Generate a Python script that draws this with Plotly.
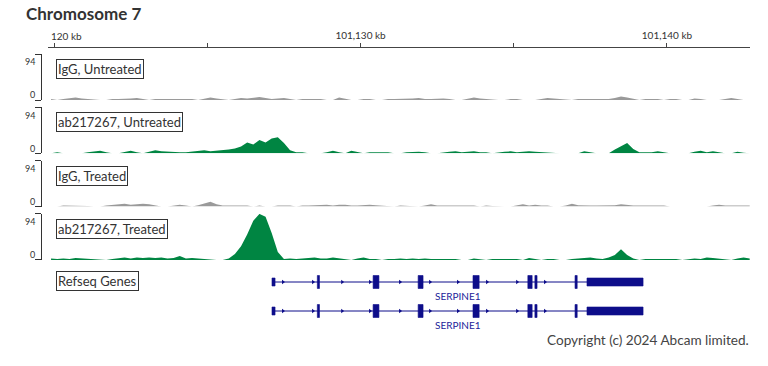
import plotly.graph_objects as go

# ---------------- data ----------------
BIN_START_KB = 101119.8   # left edge of first coverage bin (kb)
BIN_KB = 0.2              # bin width (kb)

igg_untreated = [2, 0, 2, 3, 5, 3, 2, 0, 0, 0, 2, 2, 2, 3, 4, 2, 0, 2, 2, 3,
                 2, 2, 3, 2, 0, 3, 5, 3, 2, 0, 2, 4, 3, 4, 6, 4, 2, 3, 4, 2,
                 0, 2, 2, 3, 2, 0, 0, 5, 3, 0, 0, 2, 2, 0, 0, 2, 2, 2, 3, 3,
                 4, 2, 2, 3, 3, 2, 0, 0, 2, 5, 3, 2, 0, 0, 0, 2, 2, 0, 0, 0,
                 2, 4, 3, 2, 0, 0, 2, 2, 2, 2, 3, 2, 4, 7, 5, 3, 0, 2, 2, 2,
                 0, 2, 2, 0, 0, 3, 2, 0, 0, 0, 2, 4, 2, 0, 0]

ab_untreated = [0, 2, 0, 0, 0, 0, 2, 3, 5, 2, 0, 0, 3, 5, 2, 0, 3, 6, 4, 3,
                3, 2, 2, 3, 4, 6, 4, 5, 6, 8, 10, 14, 22, 18, 27, 22, 30, 33, 21, 6,
                2, 2, 0, 0, 0, 2, 5, 2, 0, 5, 2, 0, 2, 2, 3, 2, 0, 0, 2, 3,
                3, 2, 0, 0, 2, 3, 4, 2, 3, 4, 2, 2, 0, 2, 3, 4, 2, 3, 4, 3,
                2, 2, 0, 0, 0, 0, 0, 4, 2, 0, 0, 0, 8, 14, 21, 9, 2, 2, 2, 4,
                2, 0, 0, 0, 0, 3, 5, 2, 4, 2, 0, 0, 3, 1, 0]

igg_treated = [0, 0, 2, 2, 2, 2, 1, 0, 0, 2, 3, 5, 6, 4, 5, 6, 5, 2, 0, 0,
               2, 4, 2, 0, 3, 6, 10, 5, 2, 2, 2, 2, 2, 0, 2, 0, 0, 2, 2, 2,
               0, 2, 2, 3, 4, 4, 2, 4, 4, 2, 2, 3, 4, 3, 2, 0, 0, 2, 1, 0,
               0, 2, 5, 2, 2, 2, 2, 2, 2, 2, 0, 2, 1, 0, 0, 0, 2, 5, 2, 4,
               2, 2, 0, 0, 2, 6, 3, 2, 2, 2, 2, 2, 3, 5, 3, 2, 2, 2, 2, 2,
               2, 0, 0, 0, 0, 0, 0, 0, 2, 4, 2, 2, 2, 2, 2]

ab_treated = [3, 2, 3, 2, 4, 3, 2, 2, 0, 0, 2, 3, 5, 3, 5, 4, 5, 4, 5, 3,
              4, 8, 3, 4, 3, 2, 0, 0, 0, 3, 12, 28, 52, 80, 94, 88, 55, 16, 2, 3,
              2, 3, 4, 5, 3, 3, 5, 3, 2, 0, 3, 5, 2, 2, 0, 2, 2, 3, 2, 3,
              2, 3, 2, 2, 2, 2, 2, 0, 0, 3, 2, 0, 2, 2, 3, 2, 2, 0, 4, 2,
              0, 2, 2, 0, 0, 2, 3, 4, 5, 3, 2, 5, 10, 22, 10, 3, 0, 2, 2, 2,
              2, 3, 2, 0, 2, 3, 2, 5, 4, 3, 2, 0, 3, 5, 3]

track_names = ["IgG, Untreated", "ab217267, Untreated", "IgG, Treated", "ab217267, Treated"]
track_values = [igg_untreated, ab_untreated, igg_treated, ab_treated]
track_colors = ["#9a9a9a", "#008542", "#9a9a9a", "#008542"]
Y_MAX = 94

x_range_kb = [101119.80, 101142.71]
tick_kb = [101120, 101125, 101130, 101135, 101140]
tick_text = ["", "", "101,130 kb", "", "101,140 kb"]
first_tick_label = "120 kb"

gene_name = "SERPINE1"
transcript_rows = [0, 1]
gene_start_kb = 101127.11
gene_end_kb = 101139.22
exon_start_kb = [101127.11, 101128.59, 101130.41, 101131.88, 101133.67, 101135.46, 101135.69, 101137.00, 101137.39]
exon_end_kb = [101127.21, 101128.66, 101130.60, 101132.04, 101133.87, 101135.60, 101135.76, 101137.07, 101139.22]
exon_is_cds = [False, True, True, True, True, True, True, True, False]
chevron_kb = [101127.47, 101128.45, 101129.40, 101130.31, 101131.29, 101132.27,
              101133.18, 101134.13, 101135.11, 101136.02]

# ---------------- layout helpers ----------------
W, H = 768, 366
FONT = "Lato"
TEXT = "#333333"
GENE_COLOR = "#0d0d8a"


def px_x(px):
    return px / W


def px_y(py):
    return 1 - py / H


track_top = [54 + 53.3 * k for k in range(4)]
track_h = 46

fig = go.Figure()
layout = dict(
    width=W, height=H,
    margin=dict(l=0, r=0, t=0, b=0),
    paper_bgcolor="white", plot_bgcolor="white",
    showlegend=False, hovermode=False,
    font=dict(family=FONT, color=TEXT),
    xaxis=dict(
        domain=[px_x(48), px_x(750)], range=x_range_kb,
        anchor="free", position=px_y(46.5), side="top",
        showline=True, linecolor="#444", linewidth=1,
        ticks="outside", ticklen=4, tickcolor="#444",
        tickvals=tick_kb, ticktext=tick_text,
        tickfont=dict(family=FONT, size=10, color=TEXT),
        showgrid=False, zeroline=False, fixedrange=True,
    ),
)

annotations = []
shapes = []

n_bins = len(igg_untreated)
bin_centers = [BIN_START_KB + BIN_KB * (i + 0.5) for i in range(n_bins)]

for k, (name, vals, col) in enumerate(zip(track_names, track_values, track_colors)):
    yname = "y" if k == 0 else f"y{k + 1}"
    axkey = "yaxis" if k == 0 else f"yaxis{k + 1}"
    top = track_top[k]
    bottom = top + track_h
    layout[axkey] = dict(
        domain=[px_y(bottom), px_y(top)], range=[0, Y_MAX],
        anchor="free", position=px_x(41),
        showline=True, linecolor="#333", linewidth=1,
        ticks="outside", ticklen=6, tickcolor="#333",
        tickvals=[0, Y_MAX], showticklabels=False,
        showgrid=False, zeroline=False, fixedrange=True,
    )
    fig.add_trace(go.Scatter(
        x=bin_centers, y=vals, xaxis="x", yaxis=yname,
        mode="lines", line=dict(width=0, color=col),
        fill="tozeroy", fillcolor=col,
    ))
    annotations.append(dict(
        xref="paper", yref=yname, x=px_x(36.5), y=Y_MAX, yshift=-8,
        xanchor="right", yanchor="middle", showarrow=False,
        text=str(Y_MAX), font=dict(family=FONT, size=9, color=TEXT)))
    annotations.append(dict(
        xref="paper", yref=yname, x=px_x(36.5), y=0, yshift=5,
        xanchor="right", yanchor="middle", showarrow=False,
        text="0", font=dict(family=FONT, size=9, color=TEXT)))
    annotations.append(dict(
        xref="paper", yref="paper", x=px_x(56), y=px_y(top + 15),
        xanchor="left", yanchor="middle", showarrow=False,
        text=name, font=dict(family=FONT, size=13, color=TEXT),
        bordercolor="#333", borderwidth=1, borderpad=1, bgcolor="white"))

# first tick label (left-aligned at its tick)
annotations.append(dict(
    xref="x", yref="paper", x=tick_kb[0], y=px_y(35.5), xshift=-5,
    xanchor="left", yanchor="middle", showarrow=False,
    text=first_tick_label, font=dict(family=FONT, size=10, color=TEXT)))

# gene track axis: rows in units of transcript index
ROW_PX = 29
row0_px = 282
g_top, g_bot = 268, 332
layout["yaxis5"] = dict(
    domain=[px_y(g_bot), px_y(g_top)],
    range=[(g_bot - row0_px) / ROW_PX, (g_top - row0_px) / ROW_PX],
    anchor="free", position=0, visible=False, fixedrange=True,
)
CDS_HALF = 6.5 / ROW_PX
UTR_HALF = 4.0 / ROW_PX

for row in transcript_rows:
    shapes.append(dict(type="line", xref="x", yref="y5",
                       x0=gene_start_kb, x1=gene_end_kb, y0=row, y1=row,
                       line=dict(color=GENE_COLOR, width=1)))
    for s, e, cds in zip(exon_start_kb, exon_end_kb, exon_is_cds):
        h = CDS_HALF if cds else UTR_HALF
        shapes.append(dict(type="rect", xref="x", yref="y5",
                           x0=s, x1=e, y0=row - h, y1=row + h,
                           fillcolor=GENE_COLOR, line=dict(width=0.6, color=GENE_COLOR)))
    fig.add_trace(go.Scatter(
        x=chevron_kb, y=[row] * len(chevron_kb), xaxis="x", yaxis="y5",
        mode="markers",
        marker=dict(symbol="triangle-right", size=4, color=GENE_COLOR),
    ))
    annotations.append(dict(
        xref="x", yref="y5", x=(gene_start_kb + gene_end_kb) / 2, y=row, yshift=-14,
        xanchor="center", yanchor="middle", showarrow=False,
        text=gene_name, font=dict(family=FONT, size=10, color="#23239a")))

annotations.append(dict(
    xref="paper", yref="paper", x=px_x(56), y=px_y(281),
    xanchor="left", yanchor="middle", showarrow=False,
    text="Refseq Genes", font=dict(family=FONT, size=13, color=TEXT),
    bordercolor="#333", borderwidth=1, borderpad=1, bgcolor="white"))

# title and copyright
annotations.append(dict(
    xref="paper", yref="paper", x=px_x(24), y=px_y(13),
    xanchor="left", yanchor="middle", showarrow=False,
    text="<b>Chromosome 7</b>", font=dict(family=FONT, size=17, color=TEXT)))
annotations.append(dict(
    xref="paper", yref="paper", x=px_x(751), y=px_y(340),
    xanchor="right", yanchor="middle", showarrow=False,
    text="Copyright (c) 2024 Abcam limited.", font=dict(family=FONT, size=13.6, color="#444")))

layout["annotations"] = annotations
layout["shapes"] = shapes
fig.update_layout(**layout)
fig.write_html("out.html", config={"displayModeBar": False},
               post_script="document.body.style.margin='0';")
